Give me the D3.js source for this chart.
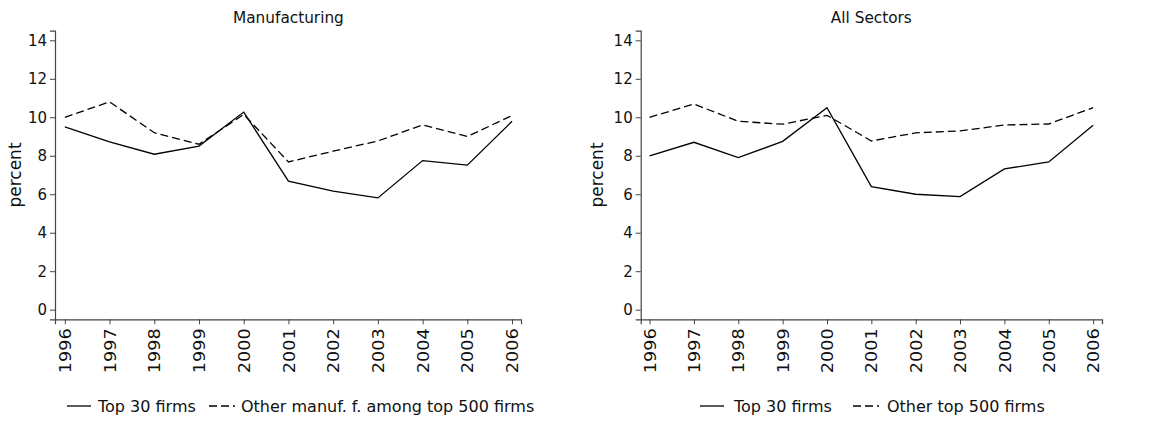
<!DOCTYPE html>
<html><head><meta charset="utf-8">
<script src="https://cdn.jsdelivr.net/npm/d3@7"></script>
<style>
body{margin:0;background:#fff;}
text{font-family:"DejaVu Sans",sans-serif;fill:#111;}
</style></head>
<body>
<svg id="c" width="1166" height="421"></svg>
<script>
const years = [1996,1997,1998,1999,2000,2001,2002,2003,2004,2005,2006];
const yTicks = [0,2,4,6,8,10,12,14];
const manufTop30 = [9.5,8.72,8.08,8.5,10.27,6.68,6.16,5.81,7.75,7.51,9.79];
const manufOther = [10.0,10.8,9.2,8.6,10.15,7.68,8.24,8.77,9.6,9.0,10.09];
const allTop30 = [8.0,8.7,7.9,8.75,10.5,6.4,6.0,5.88,7.32,7.68,9.58];
const allOther = [10.0,10.69,9.79,9.64,10.1,8.77,9.19,9.29,9.6,9.65,10.5];
const panelTitles = ["Manufacturing","All Sectors"];
const legendLabels = [["Top 30 firms","Other manuf. f. among top 500 firms"],["Top 30 firms","Other top 500 firms"]];
const yLabel = "percent";

const svg = d3.select("#c");
const panels = [
  {title:panelTitles[0], s1:manufTop30, s2:manufOther, x0:55, x1:521, xd:[1995.78,2006.2], ylabX:15, leg:legendLabels[0], legX:[67,98,209,241]},
  {title:panelTitles[1], s1:allTop30, s2:allOther, x0:640.7, x1:1102, xd:[1995.8,2006.2], ylabX:597, leg:legendLabels[1], legX:[700,734,853,887]}
];
panels.forEach(p=>{
  const g = svg.append("g");
  const x = d3.scaleLinear().domain(p.xd).range([p.x0,p.x1]);
  const y = d3.scaleLinear().domain([-0.5,14.5]).range([319.3,30.7]);
  const ya = g.append("g").attr("transform",`translate(${p.x0},0)`)
    .call(d3.axisLeft(y).tickValues(yTicks).tickSize(5).tickPadding(3).tickFormat(d3.format("d")));
  ya.select(".domain").attr("stroke","#444").attr("stroke-width",1.2);
  ya.selectAll(".tick line").attr("stroke","#444");
  ya.selectAll(".tick text").style("font-size","15px").style("font-family","DejaVu Sans").attr("fill","#111");
  const xa = g.append("g").attr("transform",`translate(0,319.3)`)
    .call(d3.axisBottom(x).tickValues(years).tickSize(5).tickFormat(d3.format("d")));
  xa.select(".domain").attr("stroke","#444").attr("stroke-width",1.2);
  xa.selectAll(".tick line").attr("stroke","#444");
  xa.selectAll(".tick text").style("font-size","15.5px").style("font-family","DejaVu Sans")
    .attr("transform","rotate(-90)").attr("text-anchor","end")
    .attr("x",-9).attr("y",0).attr("dy","0.36em")
    .attr("textLength",45).attr("lengthAdjust","spacingAndGlyphs");
  g.append("text").attr("x",(x(1996)+x(2006))/2).attr("y",23).attr("text-anchor","middle")
    .style("font-size","15.3px").text(p.title);
  g.append("text").attr("transform",`translate(${p.ylabX},175) rotate(-90)`)
    .attr("text-anchor","middle").attr("dy","0.36em").style("font-size","17px").text(yLabel);
  const line = d3.line().x((d,i)=>x(years[i])).y(d=>y(d));
  g.append("path").datum(p.s2).attr("d",line).attr("fill","none").attr("stroke","#000")
    .attr("stroke-width",1.3).attr("stroke-dasharray","8,4");
  g.append("path").datum(p.s1).attr("d",line).attr("fill","none").attr("stroke","#000")
    .attr("stroke-width",1.3);
  const ly = 412;
  g.append("line").attr("x1",p.legX[0]).attr("x2",p.legX[0]+24).attr("y1",ly-6).attr("y2",ly-6)
    .attr("stroke","#000").attr("stroke-width",1.3);
  g.append("text").attr("x",p.legX[1]).attr("y",ly).style("font-size","16px").text(p.leg[0]);
  g.append("line").attr("x1",p.legX[2]).attr("x2",p.legX[2]+26).attr("y1",ly-6).attr("y2",ly-6)
    .attr("stroke","#000").attr("stroke-width",1.3).attr("stroke-dasharray","8,4");
  g.append("text").attr("x",p.legX[3]).attr("y",ly).style("font-size","16px").text(p.leg[1]);
});
</script>
</body></html>
